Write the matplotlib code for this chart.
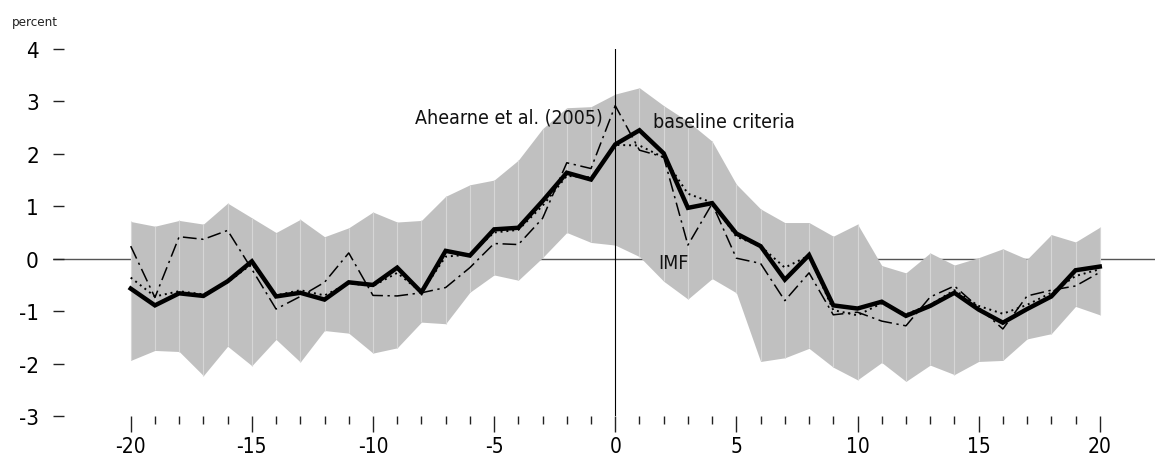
import numpy as np
import matplotlib
matplotlib.use("Agg")
import matplotlib.pyplot as plt

plt.rcParams['font.family'] = ['DejaVu Sans']
plt.rcParams['font.stretch'] = 'condensed'
plt.rcParams['axes.unicode_minus'] = False

# quarters around the event
periods = list(range(-20, 21))

baseline = [-0.57, -0.89, -0.66, -0.71, -0.43, -0.05, -0.72, -0.65, -0.78, -0.45,
            -0.50, -0.17, -0.64, 0.15, 0.06, 0.56, 0.59, 1.10, 1.64, 1.51,
            2.18, 2.45, 2.01, 0.97, 1.06, 0.48, 0.24, -0.40, 0.07, -0.89,
            -0.95, -0.82, -1.09, -0.90, -0.65, -0.97, -1.22, -0.96, -0.72, -0.22,
            -0.15]

ahearne = [0.24, -0.74, 0.42, 0.37, 0.54, -0.20, -0.96, -0.72, -0.45, 0.11,
           -0.70, -0.71, -0.65, -0.55, -0.17, 0.29, 0.27, 0.77, 1.83, 1.72,
           2.92, 2.07, 1.94, 0.26, 1.05, 0.01, -0.09, -0.80, -0.27, -1.07,
           -1.02, -1.19, -1.28, -0.73, -0.52, -0.93, -1.34, -0.71, -0.60, -0.52,
           -0.26]

imf = [-0.36, -0.72, -0.62, -0.68, -0.45, -0.10, -0.70, -0.60, -0.70, -0.47,
       -0.52, -0.27, -0.64, 0.04, 0.08, 0.50, 0.55, 1.01, 1.58, 1.55,
       2.17, 2.16, 1.93, 1.24, 1.07, 0.42, 0.24, -0.17, 0.06, -0.98,
       -1.08, -0.85, -1.06, -0.88, -0.60, -0.90, -1.05, -0.88, -0.65, -0.33,
       -0.20]

band_upper = [0.71, 0.62, 0.73, 0.66, 1.06, 0.78, 0.50, 0.75, 0.42, 0.59,
              0.89, 0.70, 0.73, 1.19, 1.41, 1.50, 1.88, 2.48, 2.88, 2.90,
              3.14, 3.26, 2.92, 2.62, 2.24, 1.42, 0.95, 0.69, 0.69, 0.43,
              0.66, -0.13, -0.27, 0.11, -0.12, 0.02, 0.19, -0.01, 0.46, 0.32,
              0.60]

band_lower = [-1.94, -1.75, -1.77, -2.23, -1.67, -2.04, -1.54, -1.97, -1.37, -1.42,
              -1.80, -1.70, -1.21, -1.24, -0.64, -0.31, -0.41, 0.02, 0.50, 0.31,
              0.26, 0.04, -0.43, -0.77, -0.38, -0.65, -1.96, -1.89, -1.71, -2.07,
              -2.31, -1.98, -2.34, -2.03, -2.21, -1.96, -1.94, -1.53, -1.43, -0.91,
              -1.07]

fig = plt.figure(figsize=(11.55, 4.6), dpi=100)
ax = fig.add_axes([52.7 / 1155, 43 / 460, 1102.3 / 1155, 367 / 460])

ax.axhline(0, color='#555555', lw=1.0, zorder=0.5)
ax.fill_between(periods, band_lower, band_upper, color='#c0c0c0', lw=0, zorder=1)
ax.vlines(periods, band_lower, band_upper, color='#d6d6d6', lw=0.8, zorder=1.5)
ax.plot([0, 0], [-3, 4], color='black', lw=0.8, zorder=2.5)

ax.plot(periods, imf, color='black', lw=1.4, linestyle=(0, (1, 2)), zorder=3)
ax.plot(periods, ahearne, color='black', lw=1.1, linestyle=(0, (9, 3, 1.5, 3)), zorder=3)
ax.plot(periods, baseline, color='black', lw=3.2, zorder=4, solid_joinstyle='miter')

ax.text(-0.5, 2.70, 'Ahearne et al. (2005)', ha='right', va='center', fontsize=14, color='#111111')
ax.text(1.55, 2.61, 'baseline criteria', ha='left', va='center', fontsize=14, color='#111111')
ax.text(1.77, -0.07, 'IMF', ha='left', va='center', fontsize=14, color='#111111')
fig.text(12 / 1155, 1 - 22.7 / 460, 'percent', ha='left', va='center', fontsize=9.5, color='#222222')

ax.set_xlim(-23.22, 22.28)
ax.set_ylim(-3, 4)
for s in ax.spines.values():
    s.set_visible(False)

ax.set_xticks(range(-20, 21, 5))
ax.set_xticks(periods, minor=True)
ax.set_yticks(range(-3, 5))
ax.tick_params(axis='x', which='major', direction='out', length=11.5, width=1.0,
               pad=3, labelsize=15, color='#222222')
ax.tick_params(axis='x', which='minor', direction='out', length=5.8, width=1.0, color='#222222')
ax.tick_params(axis='y', which='major', direction='in', length=7.9, width=1.0,
               pad=9.9, labelsize=16, color='#222222')

fig.savefig('out.png', dpi=100)
